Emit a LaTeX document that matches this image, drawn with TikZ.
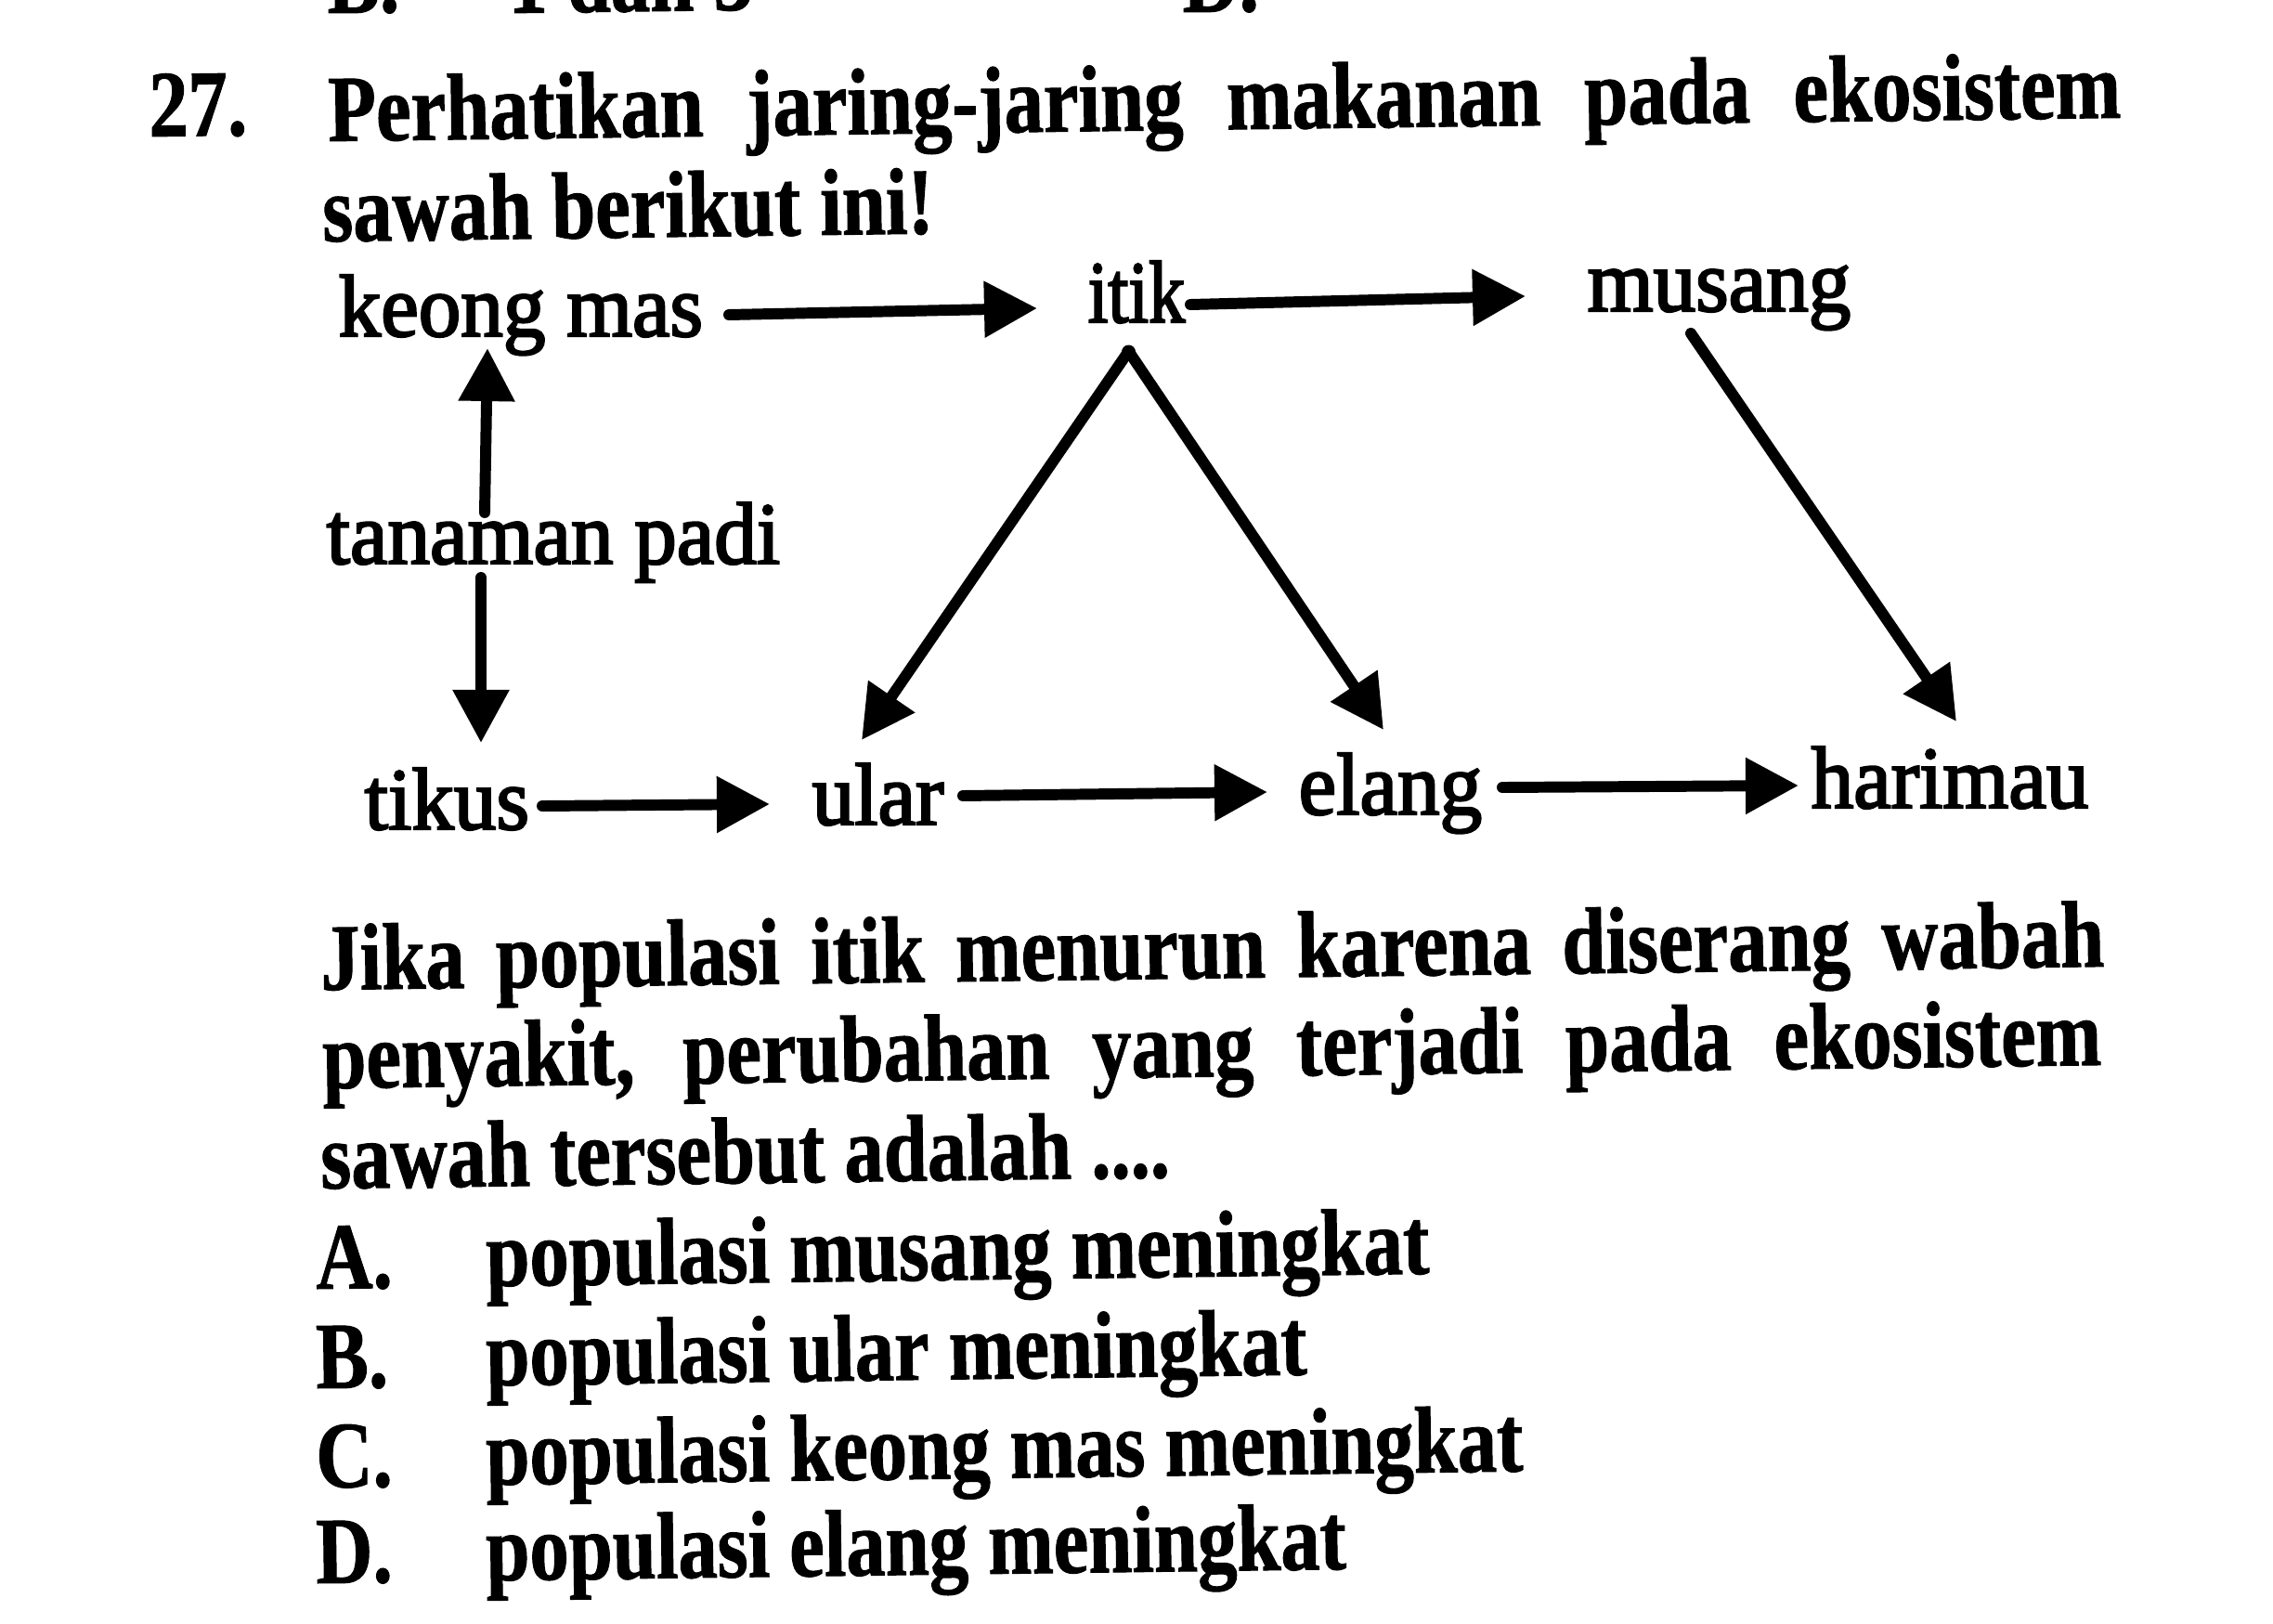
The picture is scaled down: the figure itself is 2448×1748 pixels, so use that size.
\documentclass[tikz,border=0pt]{standalone}
\usepackage{fontspec}
\setmainfont{Liberation Serif}
\newfontfamily\qfont[FakeStretch=0.83,FakeBold=1]{Liberation Serif}
\newfontfamily\lfont[FakeStretch=0.96,FakeBold=2.5]{Liberation Serif}
\usetikzlibrary{arrows.meta}
\begin{document}
\begin{tikzpicture}[x=0.01cm,y=-0.01cm,
  q/.style={anchor=base west, inner sep=0pt, rotate=0.75, font=\qfont\bfseries\fontsize{29}{30}\selectfont},
  lab/.style={anchor=base west, inner sep=0pt, font=\lfont\fontsize{27}{28}\selectfont},
  arr/.style={line width=3.4pt, line cap=round, -{Triangle[length=0.57cm,width=0.58cm]}}]
\fill[white] (0,0) rectangle (2448,1748);
\useasboundingbox (0,0) rectangle (2448,1748);

% fragments of the previous question (cut off at the top)
\node[q] (fb) at (352,14) {B.};
\node[q] (fb2) at (547,14) {1 dan 3};
\node[q] (fd) at (1273,13) {D.};

% question
\node[q] (num) at (160,147) {27.};
\node[q] (t1) at (353,152) {\makebox[19.30cm][s]{Perhatikan jaring-jaring makanan pada ekosistem}};
\node[q] (t2) at (347,260) {sawah berikut ini!};

% food web labels
\node[lab] (keong) at (364,362) {keong mas};
\node[lab] (itik) at (1171,347) {\scalebox{0.86}[1]{itik}};
\node[lab] (musang) at (1709,335) {musang};
\node[lab] (padi) at (351,607) {tanaman padi};
\node[lab] (tikus) at (392,893) {tikus};
\node[lab] (ular) at (874,888) {ular};
\node[lab] (elang) at (1398,877) {elang};
\node[lab] (harimau) at (1950,870) {harimau};

% arrows
\draw[arr] ([shift={(421,-23)}]keong.base west) -- ([shift={(-54,-15)}]itik.base west);
\draw[arr] ([shift={(111,-19)}]itik.base west) -- ([shift={(-66,-16)}]musang.base west);
\draw[arr] ([shift={(171,-55)}]padi.base west) -- ([shift={(161,13)}]keong.base west);
\draw[arr] ([shift={(167,15)}]padi.base west) -- ([shift={(126,-93)}]tikus.base west);
\draw[arr] ([shift={(44,32)}]itik.base west) -- ([shift={(54,-91)}]ular.base west);
\draw[arr] ([shift={(45,32)}]itik.base west) -- ([shift={(92,-91)}]elang.base west);
\draw[arr] ([shift={(112,24)}]musang.base west) -- ([shift={(157,-93)}]harimau.base west);
\draw[arr] ([shift={(192,-25)}]tikus.base west) -- ([shift={(-45,-22)}]ular.base west);
\draw[arr] ([shift={(163,-31)}]ular.base west) -- ([shift={(-33,-24)}]elang.base west);
\draw[arr] ([shift={(220,-29)}]elang.base west) -- ([shift={(-13,-24)}]harimau.base west);
\fill ([shift={(44.5,32)}]itik.base west) circle (0.075cm);

% question text
\node[q] (j1) at (345,1066) {\makebox[19.20cm][s]{Jika populasi itik menurun karena diserang wabah}};
\node[q] (j2) at (347,1172) {\makebox[19.15cm][s]{penyakit, perubahan yang terjadi pada ekosistem}};
\node[q] (j3) at (345,1280) {sawah tersebut adalah ....};

% options
\node[q] (oa) at (340,1388) {A.};
\node[q] (pa) at (523,1385) {populasi musang meningkat};
\node[q] (ob) at (340,1495) {B.};
\node[q] (pb) at (523,1492) {populasi ular meningkat};
\node[q] (oc) at (340,1602) {C.};
\node[q] (pc) at (523,1599) {populasi keong mas meningkat};
\node[q] (od) at (340,1705) {D.};
\node[q] (pd) at (523,1702) {populasi elang meningkat};
\end{tikzpicture}
\end{document}
